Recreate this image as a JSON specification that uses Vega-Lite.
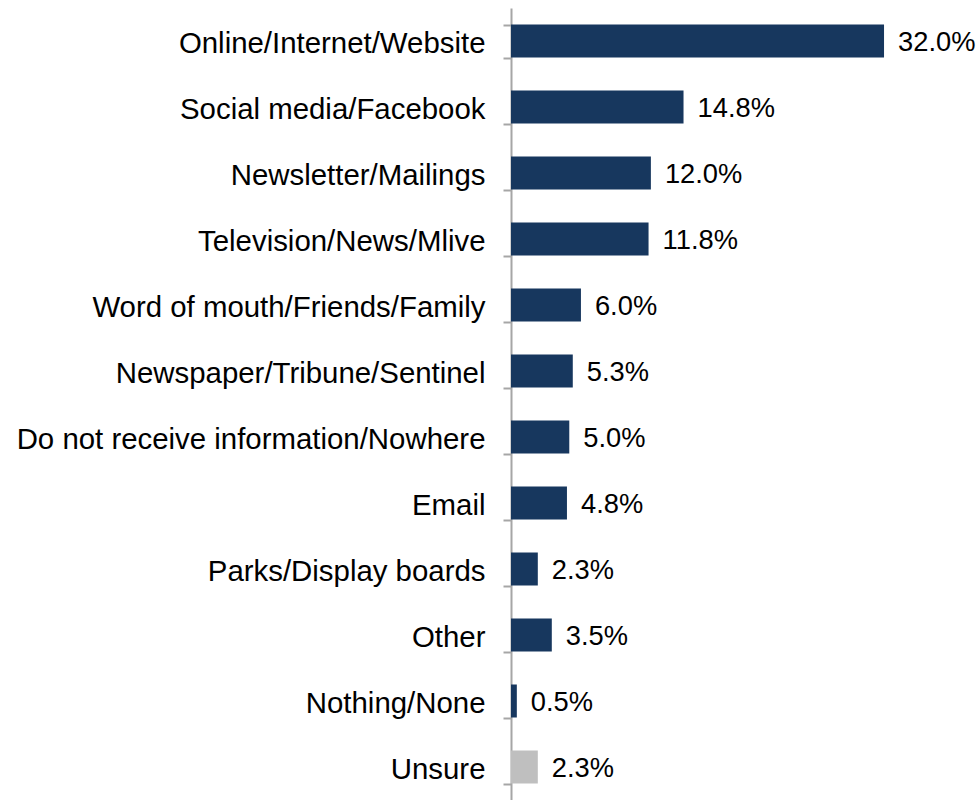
{
  "$schema": "https://vega.github.io/schema/vega-lite/v6.json",
  "autosize": "none",
  "width": 408,
  "height": 792,
  "padding": {"left": 511, "top": 8, "right": 60, "bottom": 0},
  "background": "white",
  "config": {"view": {"stroke": null}, "font": "Liberation Sans"},
  "data": {
    "values": [
      {"source": "Online/Internet/Website", "share": 0.320, "group": "main"},
      {"source": "Social media/Facebook", "share": 0.148, "group": "main"},
      {"source": "Newsletter/Mailings", "share": 0.120, "group": "main"},
      {"source": "Television/News/Mlive", "share": 0.118, "group": "main"},
      {"source": "Word of mouth/Friends/Family", "share": 0.060, "group": "main"},
      {"source": "Newspaper/Tribune/Sentinel", "share": 0.053, "group": "main"},
      {"source": "Do not receive information/Nowhere", "share": 0.050, "group": "main"},
      {"source": "Email", "share": 0.048, "group": "main"},
      {"source": "Parks/Display boards", "share": 0.023, "group": "main"},
      {"source": "Other", "share": 0.035, "group": "main"},
      {"source": "Nothing/None", "share": 0.005, "group": "main"},
      {"source": "Unsure", "share": 0.023, "group": "unsure"}
    ]
  },
  "encoding": {
    "y": {
      "field": "source",
      "type": "nominal",
      "sort": null,
      "scale": {"paddingInner": 0.5, "paddingOuter": 0.25},
      "axis": {
        "title": null,
        "tickBand": "extent",
        "tickSize": 8,
        "tickColor": "#A6A6A6",
        "tickWidth": 2,
        "domainColor": "#A6A6A6",
        "domainWidth": 2,
        "labelFontSize": 29.4,
        "labelColor": "#000000",
        "labelPadding": 18,
        "labelLimit": 600,
        "labelFont": "Liberation Sans",
        "labelOffset": 2
      }
    },
    "x": {
      "field": "share",
      "type": "quantitative",
      "scale": {"domain": [0, 0.35]},
      "axis": null
    }
  },
  "layer": [
    {
      "mark": {"type": "bar"},
      "encoding": {
        "color": {
          "field": "group",
          "type": "nominal",
          "scale": {"domain": ["main", "unsure"], "range": ["#17375E", "#BFBFBF"]},
          "legend": null
        }
      }
    },
    {
      "mark": {"type": "text", "align": "left", "baseline": "middle", "dx": 14, "dy": 2, "fontSize": 27.3, "font": "Liberation Sans", "color": "#000000", "clip": false},
      "encoding": {
        "text": {"field": "share", "type": "quantitative", "format": ".1%"}
      }
    }
  ]
}
